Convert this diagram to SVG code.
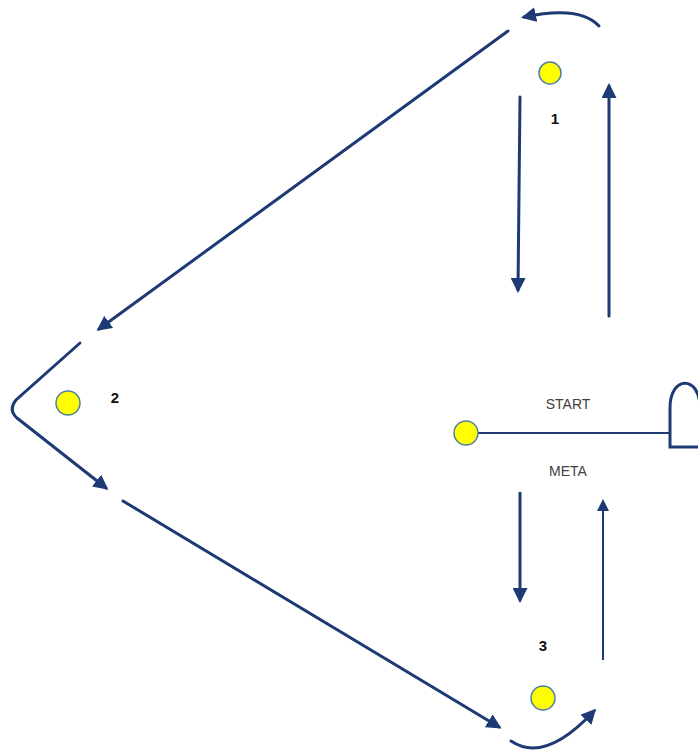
<svg xmlns="http://www.w3.org/2000/svg" width="698" height="756" viewBox="0 0 698 756">
<style>
.c{stroke:#1E3A74;stroke-width:3;fill:none;stroke-linecap:round}
.t{stroke:#1E3A74;stroke-width:2;fill:none}
.n{fill:#FFFF00;stroke:#4F7FA8;stroke-width:1.5}
.lb{font-family:"Liberation Sans",Arial,sans-serif;font-size:15px;font-weight:bold;fill:#111}
.tx{font-family:"Liberation Sans",Arial,sans-serif;font-size:14px;fill:#404040}
</style>
<defs>
<marker id="ah" markerWidth="5" markerHeight="5" refX="4" refY="2.5" orient="auto" markerUnits="strokeWidth">
<path d="M0,0 L5,2.5 L0,5 Z" fill="#1E3A74"/>
</marker>
<marker id="ah2" markerWidth="6" markerHeight="6" refX="5" refY="3" orient="auto" markerUnits="strokeWidth">
<path d="M0,0 L6,3 L0,6 Z" fill="#1E3A74"/>
</marker>
</defs>
<g id="connectors">
<path class="c" d="M599,26 Q580,5 524,17" marker-end="url(#ah)"/>
<line class="c" x1="508" y1="31" x2="99" y2="329" marker-end="url(#ah)"/>
<path class="c" d="M80,343 L16,400 Q8,410 17,418 L106,488" marker-end="url(#ah)"/>
<line class="c" x1="123" y1="501" x2="499" y2="727" marker-end="url(#ah)"/>
<path class="c" d="M511,741 Q545,764 594,711" marker-end="url(#ah)"/>
<line class="c" x1="520" y1="97" x2="518" y2="290" marker-end="url(#ah)"/>
<line class="c" x1="609" y1="316" x2="609" y2="86" marker-end="url(#ah)"/>
<line class="c" x1="520" y1="493" x2="520" y2="600" marker-end="url(#ah)"/>
<line class="t" x1="603" y1="660" x2="603" y2="501" marker-end="url(#ah2)"/>
<line class="t" x1="478" y1="433" x2="670" y2="433"/>
<path class="c" d="M702,447 L670,447 L670,408 C670,375 700,375 700,408 L700,447"/>
</g>
<g id="node1"><circle class="n" cx="550" cy="73" r="11"/><text class="lb" x="555" y="124" text-anchor="middle">1</text></g>
<g id="node2"><circle class="n" cx="68" cy="403" r="12"/><text class="lb" x="115" y="403" text-anchor="middle">2</text></g>
<g id="node3"><circle class="n" cx="543" cy="698" r="12"/><text class="lb" x="543" y="651" text-anchor="middle">3</text></g>
<g id="start"><circle class="n" cx="466" cy="433" r="12"/><text class="tx" x="568" y="409" text-anchor="middle">START</text><text class="tx" x="568" y="476" text-anchor="middle">META</text></g>
</svg>
